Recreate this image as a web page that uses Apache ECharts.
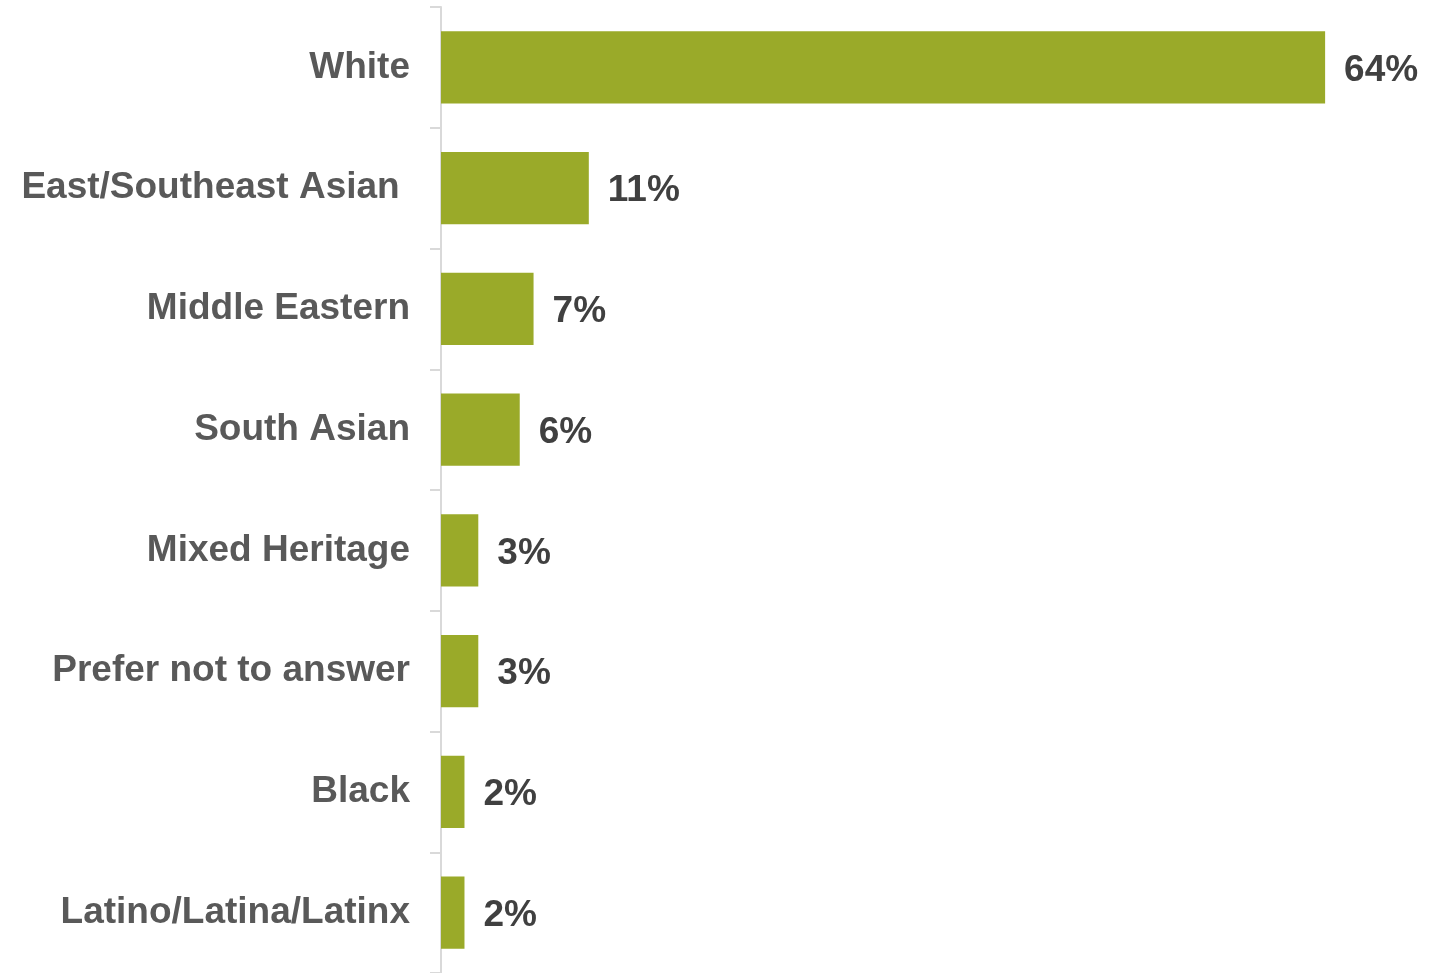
<!DOCTYPE html>
<html>
<head>
<meta charset="utf-8">
<script src="https://cdn.jsdelivr.net/npm/echarts@6/dist/echarts.min.js"></script>
<style>
html,body{margin:0;padding:0;background:#fff;}
#chart{width:1432px;height:973px;}
</style>
</head>
<body>
<div id="chart"></div>
<script>
const categories = [
  "White",
  "East/Southeast Asian ",
  "Middle Eastern",
  "South Asian",
  "Mixed Heritage",
  "Prefer not to answer",
  "Black",
  "Latino/Latina/Latinx"
];
// values; labels shown rounded as in the original
const values = [64, 10.7, 6.7, 5.7, 2.7, 2.7, 1.7, 1.7];

const chart = echarts.init(document.getElementById('chart'));
chart.setOption({
  animation: false,
  backgroundColor: '#ffffff',
  grid: { left: 441, right: 24, top: 7, bottom: 0, containLabel: false },
  xAxis: {
    type: 'value',
    min: 0,
    max: 70,
    show: false
  },
  yAxis: {
    type: 'category',
    inverse: true,
    offset: 2,
    data: categories,
    axisLine: { show: true, lineStyle: { color: '#d9d9d9', width: 2 } },
    axisTick: { show: true, length: 11, lineStyle: { color: '#d9d9d9', width: 2 } },
    axisLabel: {
      margin: 29,
      color: '#595959',
      fontFamily: 'Liberation Sans, Arial, sans-serif',
      fontWeight: 'bold',
      fontSize: 37,
      padding: [7, 0, 0, 0]
    },
    splitLine: { show: false }
  },
  series: [{
    type: 'bar',
    data: values,
    barCategoryGap: '40%',
    itemStyle: { color: '#9aaa29' },
    label: {
      show: true,
      position: 'right',
      distance: 19,
      offset: [0, 3],
      formatter: p => Math.round(p.value) + '%',
      color: '#404040',
      fontFamily: 'Liberation Sans, Arial, sans-serif',
      fontWeight: 'bold',
      fontSize: 37
    }
  }]
});
</script>
</body>
</html>
